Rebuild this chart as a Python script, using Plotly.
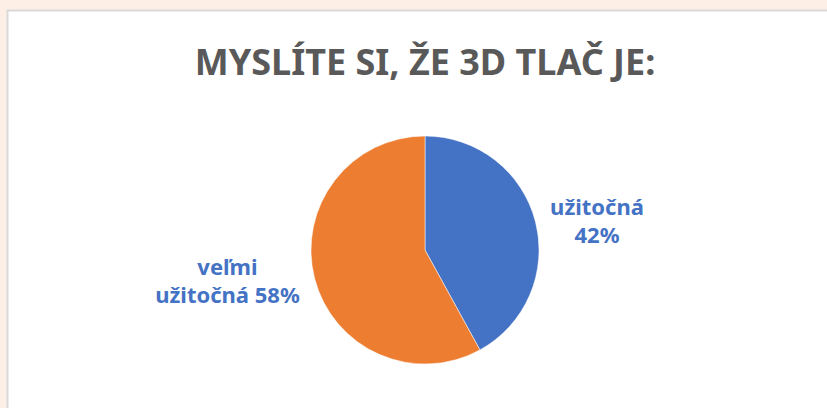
import plotly.graph_objects as go

categories = ["užitočná", "veľmi užitočná"]
label_text = ["užitočná<br>", "veľmi<br>užitočná "]
values = [42, 58]
colors = ["#4472C4", "#ED7D31"]
title_text = "MYSLÍTE SI, ŽE 3D TLAČ JE:"

W, H = 827, 408
cx, cy, r = 425, 250, 114

fig = go.Figure(go.Pie(
    labels=categories,
    values=values,
    text=label_text,
    texttemplate="%{text}%{percent:.0%}",
    textposition="outside",
    textfont=dict(family="Noto Sans", size=22, color="#4472C4", weight="bold"),
    marker=dict(colors=colors, line=dict(color="white", width=0.5)),
    sort=False,
    direction="clockwise",
    rotation=0,
    showlegend=False,
    hole=0,
    domain=dict(x=[(cx - r) / W, (cx + r) / W], y=[(H - cy - r) / H, (H - cy + r) / H]),
))

fig.update_layout(
    width=W, height=H,
    margin=dict(l=0, r=0, t=0, b=0),
    paper_bgcolor="#FDEFE6",
    plot_bgcolor="white",
    shapes=[dict(type="rect", xref="paper", yref="paper",
                 x0=7.5 / W, x1=1.05, y0=-0.05, y1=1 - 10.5 / H,
                 fillcolor="white", line=dict(color="#D9D9D9", width=2), layer="below")],
    title=dict(text=title_text, x=cx / W, xanchor="center", y=1 - 62 / H, yanchor="middle",
               font=dict(family="Noto Sans", size=36, color="#595959", weight="bold")),
)

fig.write_html("out.html", config={"displayModeBar": False},
               post_script="document.body.style.margin='0';")
